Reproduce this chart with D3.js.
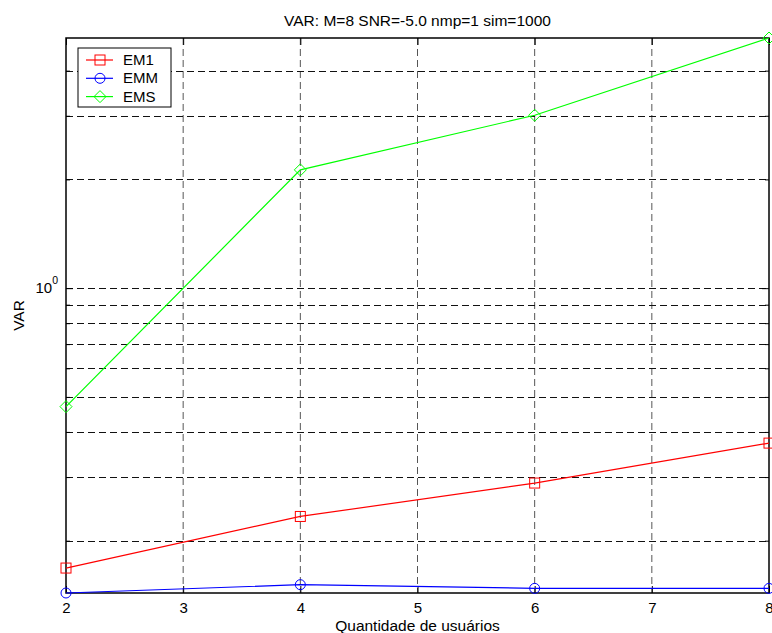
<!DOCTYPE html>
<html>
<head>
<meta charset="utf-8">
<script src="https://cdn.jsdelivr.net/npm/d3@7"></script>
<style>
  body { margin: 0; background: #fff; }
  text { font-family: "Liberation Sans", Arial, sans-serif; fill: #000; }
</style>
</head>
<body>
<div id="chart-area"></div>
<script>
/*
*    VAR vs users, log y
*/
var users = [2, 4, 6, 8];
var em1 = [0.168, 0.2334, 0.2888, 0.3725];
var emm = [0.1433, 0.1511, 0.1476, 0.1476];
var ems = [0.470, 2.125, 3.01, 4.925];
var xTicks = [2, 3, 4, 5, 6, 7, 8];
var yGrid = [0.2, 0.3, 0.4, 0.5, 0.6, 0.7, 0.8, 0.9, 1, 2, 3, 4];
var yMajor = [1];

var series = [
  { name: "EM1", values: em1, color: "#ff0000", marker: "square" },
  { name: "EMM", values: emm, color: "#0000ff", marker: "circle" },
  { name: "EMS", values: ems, color: "#00ff00", marker: "diamond" }
];

var width = 772;
var height = 633;
var margin = { top: 38, right: 3, bottom: 40, left: 66 };
var chartWidth = width - margin.left - margin.right;
var chartHeight = height - margin.top - margin.bottom;

var svg = d3.select("#chart-area")
  .append("svg")
  .attr("width", width)
  .attr("height", height);

var g = svg.append("g")
  .attr("transform", "translate(" + margin.left + ", " + margin.top + ")");

var allValues = em1.concat(emm, ems);

var x = d3.scaleLinear()
  .domain([2, 8])
  .range([0, chartWidth]);

var y = d3.scaleLog()
  .domain(d3.extent(allValues))
  .range([chartHeight, 0]);

// grid
g.selectAll(".vgrid")
  .data(xTicks.slice(1, -1))
  .enter().append("line")
  .attr("class", "vgrid")
  .attr("x1", d => x(d)).attr("x2", d => x(d))
  .attr("y1", 0).attr("y2", chartHeight)
  .attr("stroke", "#555")
  .attr("stroke-width", 1)
  .attr("stroke-dasharray", "7,4");

g.selectAll(".hgrid")
  .data(yGrid)
  .enter().append("line")
  .attr("class", "hgrid")
  .attr("x1", 0).attr("x2", chartWidth)
  .attr("y1", d => Math.round(y(d)) + 0.5).attr("y2", d => Math.round(y(d)) + 0.5)
  .attr("stroke", "#111")
  .attr("stroke-width", 1)
  .attr("stroke-dasharray", "7,4");

// axes with inward ticks
var xAxisG = g.append("g")
  .attr("transform", "translate(0, " + chartHeight + ")")
  .call(d3.axisBottom(x).tickValues(xTicks).tickFormat(d3.format("d")).tickSizeInner(-7).tickSizeOuter(0).tickPadding(9));

g.append("g")
  .call(d3.axisTop(x).tickValues(xTicks).tickFormat("").tickSizeInner(-7).tickSizeOuter(0));

var yMinor = yGrid.filter(d => yMajor.indexOf(d) < 0);

g.append("g")
  .call(d3.axisLeft(y).tickValues(yMinor).tickFormat("").tickSizeInner(-4).tickSizeOuter(0));
g.append("g")
  .call(d3.axisLeft(y).tickValues(yMajor).tickFormat("").tickSizeInner(-7).tickSizeOuter(0));
g.append("g")
  .attr("transform", "translate(" + chartWidth + ", 0)")
  .call(d3.axisRight(y).tickValues(yMinor).tickFormat("").tickSizeInner(-4).tickSizeOuter(0));
g.append("g")
  .attr("transform", "translate(" + chartWidth + ", 0)")
  .call(d3.axisRight(y).tickValues(yMajor).tickFormat("").tickSizeInner(-7).tickSizeOuter(0));

g.selectAll(".domain").remove();
g.selectAll(".tick line").attr("stroke", "#000");

xAxisG.selectAll("text")
  .attr("font-size", "15px")
  .style("font-family", "Liberation Sans, Arial, sans-serif");

// y major label 10^0
yMajor.forEach(v => {
  var t = g.append("text")
    .attr("x", -8)
    .attr("y", y(v) + 5)
    .attr("text-anchor", "end")
    .attr("font-size", "15px");
  t.append("tspan").text("10");
  t.append("tspan").attr("dy", -9).attr("font-size", "10.5px").text(Math.round(Math.log10(v)));
});

// box
g.append("rect")
  .attr("x", 0).attr("y", 0)
  .attr("width", chartWidth).attr("height", chartHeight)
  .attr("fill", "none")
  .attr("stroke", "#000")
  .attr("stroke-width", 1.5);

// lines + markers
var line = d3.line()
  .x((d, i) => x(users[i]))
  .y(d => y(d));

function drawMarker(sel, type, color) {
  if (type === "square") {
    sel.append("rect")
      .attr("x", -5).attr("y", -5).attr("width", 10).attr("height", 10)
      .attr("fill", "none").attr("stroke", color);
  } else if (type === "circle") {
    sel.append("circle")
      .attr("r", 5)
      .attr("fill", "none").attr("stroke", color);
  } else {
    sel.append("path")
      .attr("d", "M0,-6L6,0L0,6L-6,0Z")
      .attr("fill", "none").attr("stroke", color);
  }
}

series.forEach(s => {
  g.append("path")
    .datum(s.values)
    .attr("d", line)
    .attr("fill", "none")
    .attr("stroke", s.color)
    .attr("stroke-width", 1.2);

  s.values.forEach((v, i) => {
    var m = g.append("g")
      .attr("transform", "translate(" + x(users[i]) + ", " + y(v) + ")");
    drawMarker(m, s.marker, s.color);
  });
});

// legend
var legend = svg.append("g")
  .attr("transform", "translate(78, 48)");

legend.append("rect")
  .attr("x", 0).attr("y", 0)
  .attr("width", 93).attr("height", 59)
  .attr("fill", "#fff")
  .attr("stroke", "#000")
  .attr("stroke-width", 1);

series.forEach((s, i) => {
  var ly = 12 + i * 18.3;
  legend.append("line")
    .attr("x1", 8).attr("x2", 35)
    .attr("y1", ly).attr("y2", ly)
    .attr("stroke", s.color)
    .attr("stroke-width", 1.2);
  var m = legend.append("g").attr("transform", "translate(22, " + ly + ")");
  drawMarker(m, s.marker, s.color);
  legend.append("text")
    .attr("x", 45)
    .attr("y", ly + 5)
    .attr("font-size", "15px")
    .text(s.name);
});

// titles
svg.append("text")
  .attr("x", margin.left + chartWidth / 2)
  .attr("y", 26)
  .attr("text-anchor", "middle")
  .attr("font-size", "15.5px")
  .text("VAR: M=8 SNR=-5.0 nmp=1 sim=1000");

svg.append("text")
  .attr("x", margin.left + chartWidth / 2)
  .attr("y", 631)
  .attr("text-anchor", "middle")
  .attr("font-size", "15.5px")
  .text("Quantidade de usuários");

svg.append("text")
  .attr("x", -(margin.top + chartHeight / 2))
  .attr("y", 24)
  .attr("text-anchor", "middle")
  .attr("transform", "rotate(-90)")
  .attr("font-size", "15.5px")
  .text("VAR");
</script>
</body>
</html>
